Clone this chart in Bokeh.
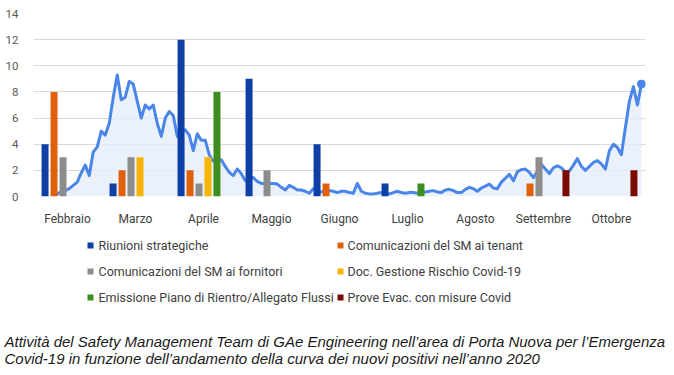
import numpy as np
from bokeh.plotting import figure
from bokeh.models import FactorRange, Range1d, SingleIntervalTicker, ColumnDataSource, Title
from bokeh.transform import dodge
from bokeh.layouts import column
from bokeh.core.properties import value
from bokeh.embed import file_html
from bokeh.resources import INLINE

months = ["Febbraio", "Marzo", "Aprile", "Maggio", "Giugno", "Luglio", "Agosto", "Settembre", "Ottobre"]

series_names = [
    "Riunioni strategiche",
    "Comunicazioni del SM ai tenant",
    "Comunicazioni del SM ai fornitori",
    "Doc. Gestione Rischio Covid-19",
    "Emissione Piano di Rientro/Allegato Flussi",
    "Prove Evac. con misure Covid",
]
riunioni = [4, 1, 12, 9, 4, 1, 0, 0, 0]
tenant = [8, 2, 2, 0, 1, 0, 0, 1, 0]
fornitori = [3, 3, 1, 2, 0, 0, 0, 3, 0]
doc_rischio = [0, 3, 3, 0, 0, 0, 0, 0, 0]
emissione = [0, 0, 8, 0, 0, 1, 0, 0, 0]
prove_evac = [0, 0, 0, 0, 0, 0, 0, 2, 2]
series_colors = ["#0D3FA6", "#E0600C", "#8C8C8C", "#F7B500", "#3E8E1F", "#7A0A00"]

# curve of new positives (scaled), sampled at regular steps from mid-February to end of October
curve = [
    0.1, 0.2, 0.35, 0.45, 0.6, 0.85, 1.1, 1.8, 2.4, 1.6, 3.4, 3.8, 5.0, 4.7, 5.6, 7.6,
    9.3, 7.4, 7.6, 8.8, 8.6, 7.3, 6.0, 7.0, 6.7, 7.0, 5.6, 4.6, 6.0, 6.5, 6.2, 4.6,
    4.9, 5.1, 4.7, 3.5, 4.8, 4.3, 4.3, 3.2, 2.7, 2.9, 2.8, 2.3, 1.85, 1.6, 2.1, 1.75,
    1.2, 1.35, 1.45, 1.15, 1.0, 1.0, 1.0, 1.0, 0.95, 0.7, 0.5, 0.85, 0.7, 0.5, 0.5, 0.4,
    0.25, 0.6, 0.35, 0.35, 0.45, 0.45, 0.4, 0.3, 0.4, 0.4, 0.3, 0.25, 1.0, 0.4, 0.25, 0.2,
    0.2, 0.25, 0.3, 0.25, 0.2, 0.3, 0.4, 0.3, 0.25, 0.3, 0.3, 0.25, 0.3, 0.35, 0.4, 0.45,
    0.35, 0.3, 0.5, 0.55, 0.45, 0.3, 0.3, 0.55, 0.7, 0.6, 0.4, 0.65, 0.8, 0.95, 0.65, 0.6,
    1.1, 1.4, 1.7, 1.2, 1.9, 2.05, 2.1, 1.85, 1.45, 1.9, 2.45, 2.1, 1.75, 2.2, 2.35, 2.2,
    1.85, 1.95, 2.4, 2.9, 2.3, 2.0, 2.3, 2.6, 2.75, 2.5, 2.1, 3.5, 4.0, 3.75, 3.2, 5.3,
    7.3, 8.4, 7.0, 8.6,
]

caption_lines = [
    "Attività del Safety Management Team di GAe Engineering nell’area di Porta Nuova per l’Emergenza",
    "Covid-19 in funzione dell’andamento della curva dei nuovi positivi nell’anno 2020",
]

series_values = [riunioni, tenant, fornitori, doc_rischio, emissione, prove_evac]

BL, BR = 33, 29

p = figure(x_range=FactorRange(*months), y_range=Range1d(0, 14), width=674, height=228,
           output_backend="svg", toolbar_location=None,
           min_border_left=BL, min_border_right=BR, min_border_top=13, min_border_bottom=32)
p.outline_line_color = None
p.background_fill_color = "white"
p.xgrid.grid_line_color = None
p.ygrid.grid_line_color = "#D9D9D9"
p.ygrid.grid_line_width = 1
p.yaxis.ticker = SingleIntervalTicker(interval=2)
for ax in (p.xaxis, p.yaxis):
    ax.axis_line_color = None
    ax.major_tick_line_color = None
    ax.minor_tick_line_color = None
    ax.major_label_text_font = "Roboto"
    ax.major_label_text_color = "#595959"
p.yaxis.major_label_text_font_size = "11.5px"
p.yaxis.major_label_standoff = 9
p.xaxis.major_label_text_font_size = "12px"
p.xaxis.major_label_text_color = "#404040"
p.xaxis.major_label_standoff = 9

curve_x = np.linspace(0.29, 8.94, len(curve))
p.varea(x=curve_x, y1=np.zeros(len(curve)), y2=curve, fill_color="#E6EEFA", fill_alpha=0.8)
p.line(curve_x, curve, line_color="#4A86E8", line_width=3, line_join="round")
p.scatter(x=[curve_x[-1]], y=[curve[-1]], size=8, fill_color="#4A86E8", line_color="#4A86E8")

step = 0.132
for i, (vals, col) in enumerate(zip(series_values, series_colors)):
    src = ColumnDataSource(dict(m=months, v=vals))
    p.vbar(x=dodge("m", (i - 2.5) * step, range=p.x_range), top="v", width=0.103,
           source=src, fill_color=col, line_color=None)

# second panel (legend + caption); its frame is aligned with the chart frame,
# so its x range is set to page pixels across that frame
CAP_H = 44
q = figure(width=674, height=147, x_range=Range1d(BL, 674 - BR), y_range=Range1d(147 - CAP_H, 0),
           output_backend="svg", toolbar_location=None,
           min_border_left=BL, min_border_right=BR, min_border_top=0, min_border_bottom=CAP_H,
           x_axis_location=None, y_axis_location=None)
q.grid.visible = False
q.outline_line_color = None

col_x = [90, 340]
text_x = [98, 347]
lx, ly, tx = [], [], []
for i, name in enumerate(series_names):
    r, c = divmod(i, 2)
    lx.append(col_x[c])
    tx.append(text_x[c])
    ly.append(17 + 26 * r)
q.scatter(x=lx, y=ly, marker="square", size=6, fill_color=series_colors, line_color=None)
q.text(x=tx, y=ly, text=series_names, text_font=value("Roboto"),
       text_font_size="12.5px", text_baseline="middle", text_color="#404040")

for k, line in enumerate(caption_lines):
    q.add_layout(Title(text=line, align="left", offset=-(BL - 4), standoff=(-1 if k == 0 else -3),
                       text_font="Liberation Sans", text_font_style="italic",
                       text_font_size="15px", text_color="#1a1a1a"), "below")

layout = column(p, q, spacing=0)
open("out.html", "w").write(file_html(layout, INLINE))
